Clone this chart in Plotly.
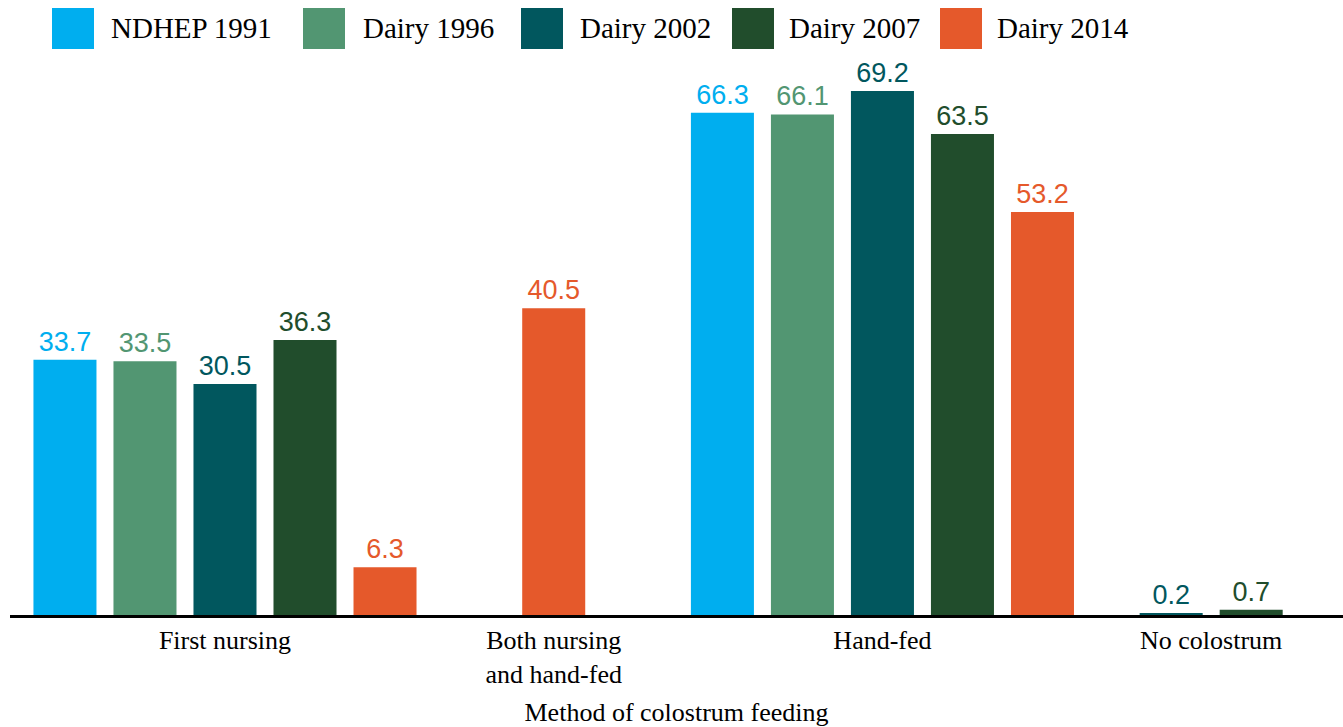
import plotly.graph_objects as go

# ---- data ----
categories = ["First nursing", "Both nursing<br>and hand-fed", "Hand-fed", "No colostrum"]
series_names = ["NDHEP 1991", "Dairy 1996", "Dairy 2002", "Dairy 2007", "Dairy 2014"]
ndhep_1991 = [33.7, None, 66.3, None]
dairy_1996 = [33.5, None, 66.1, None]
dairy_2002 = [30.5, None, 69.2, 0.2]
dairy_2007 = [36.3, None, 63.5, 0.7]
dairy_2014 = [6.3, 40.5, 53.2, None]
series_values = [ndhep_1991, dairy_1996, dairy_2002, dairy_2007, dairy_2014]

# ---- styles ----
colors = ["#00AEEF", "#529672", "#01575E", "#214D2C", "#E5592B"]
W, H = 1343, 727
ML, MR, MT, MB = 10, 0, 50, 112
PITCH = 0.2434   # slot width in category units
BW = 0.1917      # bar width in category units

# offsets computed so present bars are centred within each category
offsets = [[0.0] * len(categories) for _ in series_values]
for ci in range(len(categories)):
    present = [si for si, vals in enumerate(series_values) if vals[ci] is not None]
    n = len(present)
    for k, si in enumerate(present):
        offsets[si][ci] = (k - n / 2) * PITCH + (PITCH - BW) / 2

fig = go.Figure()
for si, (name, vals) in enumerate(zip(series_names, series_values)):
    fig.add_trace(go.Bar(
        name=name,
        x=categories,
        y=vals,
        offset=offsets[si],
        width=[BW] * len(categories),
        marker=dict(color=colors[si], line=dict(width=0)),
        text=[("%.1f" % v) if v is not None else "" for v in vals],
        textposition="outside",
        textfont=dict(family="Liberation Sans, Arial", size=27, color=colors[si]),
        constraintext="none",
        cliponaxis=False,
        showlegend=False,
        hoverinfo="x+y+name",
    ))

# custom legend (large square swatches)
plot_w = W - ML - MR
plot_h = H - MT - MB
sq_left = [52, 303, 521, 732, 940]
txt_left = [109, 361, 578, 787, 995]
for si, name in enumerate(series_names):
    x0 = (sq_left[si] - ML) / plot_w
    x1 = (sq_left[si] + 42 - ML) / plot_w
    y1 = (H - MB - 8) / plot_h
    y0 = (H - MB - 49) / plot_h
    fig.add_shape(type="rect", xref="paper", yref="paper", x0=x0, x1=x1, y0=y0, y1=y1,
                  fillcolor=colors[si], line=dict(width=0))
    fig.add_annotation(xref="paper", yref="paper", x=(txt_left[si] - ML) / plot_w,
                       y=(H - MB - 28) / plot_h, text=name, showarrow=False,
                       xanchor="left", yanchor="middle",
                       font=dict(family="Liberation Serif, Times New Roman", size=29, color="black"))

fig.update_layout(
    width=W, height=H,
    margin=dict(l=ML, r=MR, t=MT, b=MB),
    barmode="overlay",
    plot_bgcolor="white",
    paper_bgcolor="white",
    xaxis=dict(
        type="category",
        range=[-0.654, 3.401],
        showline=True, linecolor="black", linewidth=3,
        showgrid=False, zeroline=False,
        ticks="", tickfont=dict(family="Liberation Serif, Times New Roman", size=26, color="black"),
        title=dict(text="Method of colostrum feeding", standoff=18,
                   font=dict(family="Liberation Serif, Times New Roman", size=26, color="black")),
    ),
    yaxis=dict(range=[0, 74.6], visible=False, showgrid=False, zeroline=False),
)

fig.write_html("out.html")
